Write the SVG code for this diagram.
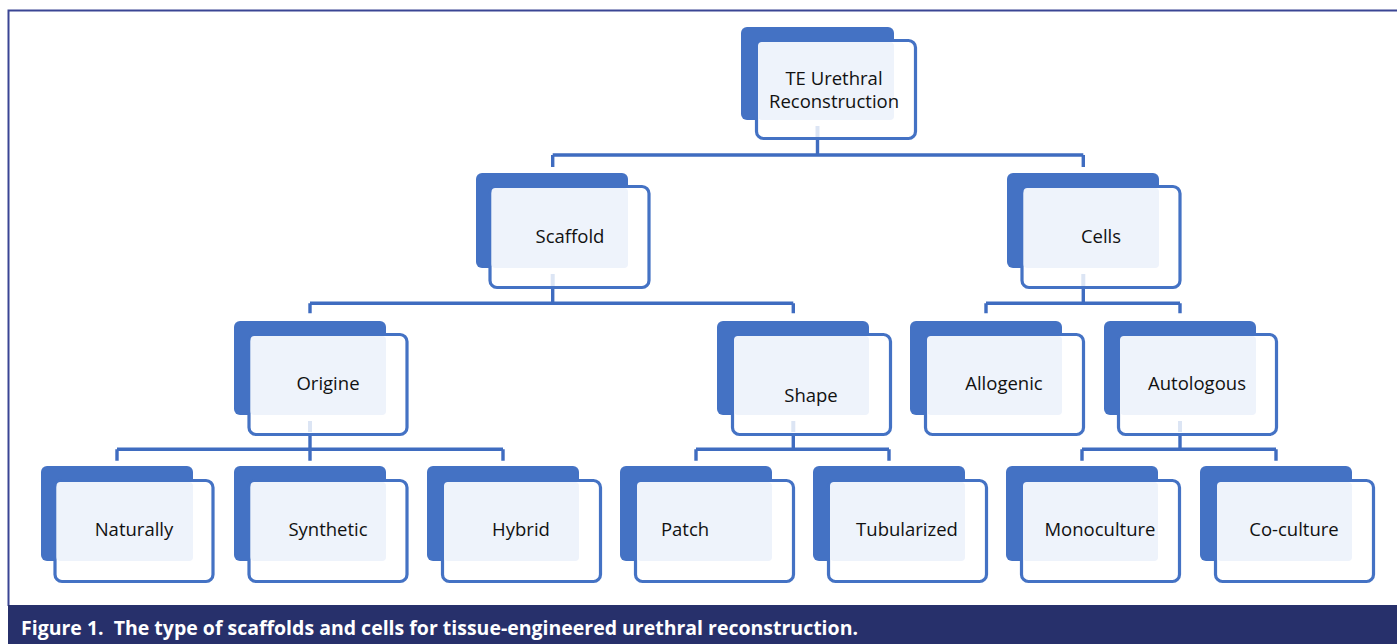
<svg xmlns="http://www.w3.org/2000/svg" width="1397" height="644" viewBox="0 0 1397 644">
<defs>
<style>
.bk{fill:#4472C4}
.fr{fill:#FFFFFF;stroke:#4472C4;stroke-width:3.2}
.lt{fill:#EEF3FB}
.tx{font-family:"Open Sans","Noto Sans","Liberation Sans",sans-serif;font-size:18.5px;fill:#111111;text-anchor:middle}
.cn{fill:none;stroke:#3F6CC0;stroke-width:3.4}
.gh{fill:none;stroke:#DCE5F4;stroke-width:4}
.cap{font-family:"Open Sans","Noto Sans","Liberation Sans",sans-serif;font-size:19px;font-weight:700;fill:#FFFFFF}
</style>
</defs>
<rect x="0" y="0" width="1397" height="644" fill="#FFFFFF"/>
<path d="M8.5 606 V10.5 H1397" fill="none" stroke="#3A4594" stroke-width="2"/>

<g id="connectors">
<path class="cn" d="M817.5 140 V155 M552.7 155 H1083.3 M552.7 155 V167 M1083.3 155 V167"/>
<path class="cn" d="M552.7 288 V303.3 M310 303.3 H793.3 M310 303.3 V313.3 M793.3 303.3 V313.3"/>
<path class="cn" d="M1083.3 288 V303.3 M986 303.3 H1180 M986 303.3 V313.3 M1180 303.3 V313.3"/>
<path class="cn" d="M310 435 V449.3 M117 449.3 H503 M117 449.3 V460.7 M310 449.3 V460.7 M503 449.3 V460.7"/>
<path class="cn" d="M793.3 435 V449.3 M696 449.3 H889 M696 449.3 V460.7 M889 449.3 V460.7"/>
<path class="cn" d="M1180 435 V449.3 M1082 449.3 H1276 M1082 449.3 V460.7 M1276 449.3 V460.7"/>
</g>

<g id="n-top">
<rect class="bk" x="741" y="27" width="153" height="93" rx="6"/>
<rect class="fr" x="756.5" y="40.5" width="159" height="98" rx="7"/>
<rect class="lt" x="758" y="42" width="136" height="78" rx="4"/>
<path class="gh" d="M817.5 126 V137"/>
<text class="tx" x="834" y="85">TE Urethral</text>
<text class="tx" x="834" y="108">Reconstruction</text>
</g>

<g id="n-scaffold">
<rect class="bk" x="476" y="173" width="152" height="95" rx="6"/>
<rect class="fr" x="490" y="186.5" width="159" height="101" rx="7"/>
<rect class="lt" x="491.5" y="188" width="136.5" height="80" rx="4"/>
<path class="gh" d="M552.7 274 V286"/>
<text class="tx" x="570" y="243">Scaffold</text>
</g>

<g id="n-cells">
<rect class="bk" x="1007" y="173" width="152" height="95" rx="6"/>
<rect class="fr" x="1022" y="186.5" width="158" height="101" rx="7"/>
<rect class="lt" x="1023.5" y="188" width="135.5" height="80" rx="4"/>
<path class="gh" d="M1083.3 274 V286"/>
<text class="tx" x="1101" y="243">Cells</text>
</g>

<g id="n-origine">
<rect class="bk" x="234" y="321" width="152" height="94" rx="6"/>
<rect class="fr" x="249" y="334.5" width="158" height="100" rx="7"/>
<rect class="lt" x="250.5" y="336" width="135.5" height="79" rx="4"/>
<path class="gh" d="M310 421 V432"/>
<text class="tx" x="328" y="390">Origine</text>
</g>

<g id="n-shape">
<rect class="bk" x="717" y="321" width="152" height="94" rx="6"/>
<rect class="fr" x="732.5" y="334.5" width="158" height="100" rx="7"/>
<rect class="lt" x="734" y="336" width="135" height="79" rx="4"/>
<path class="gh" d="M793.3 421 V432"/>
<text class="tx" x="811" y="401.5">Shape</text>
</g>

<g id="n-allogenic">
<rect class="bk" x="910" y="321" width="152" height="94" rx="6"/>
<rect class="fr" x="925.5" y="334.5" width="158" height="100" rx="7"/>
<rect class="lt" x="927" y="336" width="135" height="79" rx="4"/>
<text class="tx" x="1004" y="390">Allogenic</text>
</g>

<g id="n-autologous">
<rect class="bk" x="1104" y="321" width="152" height="94" rx="6"/>
<rect class="fr" x="1118.5" y="334.5" width="158" height="100" rx="7"/>
<rect class="lt" x="1120" y="336" width="136" height="79" rx="4"/>
<path class="gh" d="M1180 421 V432"/>
<text class="tx" x="1197" y="390">Autologous</text>
</g>

<g id="n-naturally">
<rect class="bk" x="41" y="466" width="152" height="95" rx="6"/>
<rect class="fr" x="55" y="480.5" width="158" height="101" rx="7"/>
<rect class="lt" x="56.5" y="482" width="136.5" height="79" rx="4"/>
<text class="tx" x="134" y="536">Naturally</text>
</g>

<g id="n-synthetic">
<rect class="bk" x="234" y="466" width="152" height="95" rx="6"/>
<rect class="fr" x="249" y="480.5" width="158" height="101" rx="7"/>
<rect class="lt" x="250.5" y="482" width="135.5" height="79" rx="4"/>
<text class="tx" x="328" y="536">Synthetic</text>
</g>

<g id="n-hybrid">
<rect class="bk" x="427" y="466" width="152" height="95" rx="6"/>
<rect class="fr" x="442.5" y="480.5" width="158" height="101" rx="7"/>
<rect class="lt" x="444" y="482" width="135" height="79" rx="4"/>
<text class="tx" x="521" y="536">Hybrid</text>
</g>

<g id="n-patch">
<rect class="bk" x="620" y="466" width="152" height="95" rx="6"/>
<rect class="fr" x="635.5" y="480.5" width="158" height="101" rx="7"/>
<rect class="lt" x="637" y="482" width="135" height="79" rx="4"/>
<text class="tx" x="685" y="536">Patch</text>
</g>

<g id="n-tubularized">
<rect class="bk" x="813" y="466" width="152" height="95" rx="6"/>
<rect class="fr" x="828.5" y="480.5" width="158" height="101" rx="7"/>
<rect class="lt" x="830" y="482" width="135" height="79" rx="4"/>
<text class="tx" x="907" y="536">Tubularized</text>
</g>

<g id="n-monoculture">
<rect class="bk" x="1006" y="466" width="152" height="95" rx="6"/>
<rect class="fr" x="1021.5" y="480.5" width="158" height="101" rx="7"/>
<rect class="lt" x="1023" y="482" width="135" height="79" rx="4"/>
<text class="tx" x="1100" y="536">Monoculture</text>
</g>

<g id="n-coculture">
<rect class="bk" x="1200" y="466" width="152" height="95" rx="6"/>
<rect class="fr" x="1215.5" y="480.5" width="158" height="101" rx="7"/>
<rect class="lt" x="1217" y="482" width="135" height="79" rx="4"/>
<text class="tx" x="1294" y="536">Co-culture</text>
</g>

<g id="caption">
<rect x="8" y="605" width="1389" height="39" fill="#27306B"/>
<text class="cap" x="21" y="635" textLength="837" lengthAdjust="spacingAndGlyphs" xml:space="preserve">Figure 1.  The type of scaffolds and cells for tissue-engineered urethral reconstruction.</text>
</g>
</svg>
